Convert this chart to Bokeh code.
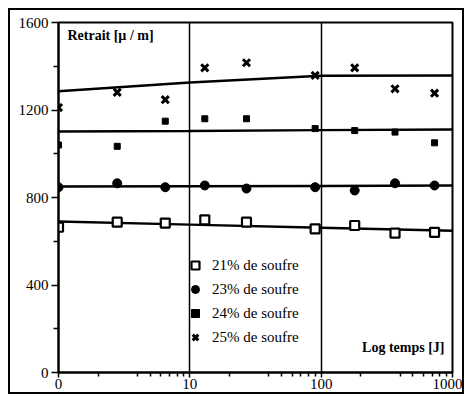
from bokeh.plotting import figure
from bokeh.models import FixedTicker, Label, Legend, LegendItem, ColumnDataSource, Range1d
from bokeh.embed import file_html
from bokeh.resources import INLINE

# Time in days (log axis; "0" is plotted at 1)
days = [1, 2.8, 6.5, 13, 27, 90, 180, 365, 730]
# Shrinkage (retrait) in micrometre per metre
s21 = [664, 687, 683, 698, 687, 657, 672, 637, 641]
s23 = [847, 865, 847, 855, 841, 847, 832, 865, 855]
s24 = [1040, 1034, 1149, 1160, 1160, 1115, 1106, 1099, 1050]
s25 = [1211, 1281, 1247, 1393, 1416, 1358, 1393, 1297, 1277]

# Trend lines
fit_days = [1, 10, 100, 1000]
fit21 = [690, 676, 662, 648]
fit23 = [850, 851, 853, 855]
fit24 = [1102, 1104, 1108, 1111]
fit25 = [1286, 1326, 1357, 1358]

labels = ["21% de soufre", "23% de soufre", "24% de soufre", "25% de soufre"]
x_ticks = [1, 10, 100, 1000]
x_tick_labels = ["0", "10", "100", "1000"]
x_minor = [2, 4, 5, 6, 7, 8, 9, 20, 40, 50, 60, 70, 80, 90, 200, 400, 500, 600, 700, 800, 900]
y_ticks = [0, 400, 800, 1200, 1600]
y_minor = [200, 600, 1000, 1400]

FONT = "Liberation Serif"

p = figure(frame_width=394, frame_height=350, x_axis_type="log",
           x_range=Range1d(1, 1000), y_range=Range1d(0, 1600),
           output_backend="svg", toolbar_location=None,
           min_border_left=48, min_border_top=12, min_border_right=10, min_border_bottom=20)
p.margin = (8, 0, 0, 8)
p.styles = {"border": "2px solid black"}
p.background_fill_color = "white"
p.border_fill_color = "white"
p.outline_line_color = "black"
p.outline_line_width = 2

# axes
p.xaxis.ticker = FixedTicker(ticks=x_ticks, minor_ticks=x_minor)
p.xaxis.major_label_overrides = {float(t): l for t, l in zip(x_ticks, x_tick_labels)}
p.yaxis.ticker = FixedTicker(ticks=y_ticks, minor_ticks=y_minor)
for ax in (p.xaxis, p.yaxis):
    ax.axis_line_color = "black"
    ax.axis_line_width = 2
    ax.major_tick_line_color = "black"
    ax.major_tick_line_width = 1.5
    ax.minor_tick_line_color = "black"
    ax.minor_tick_line_width = 1.5
    ax.major_tick_in = 0
    ax.minor_tick_in = 0
    ax.major_label_text_font = FONT
    ax.major_label_text_font_size = "15px"
    ax.major_label_text_color = "black"
p.xaxis.major_tick_out = 5
p.xaxis.minor_tick_out = 4
p.xaxis.major_label_standoff = 1
p.yaxis.major_tick_out = 7
p.yaxis.minor_tick_out = 5
p.yaxis.major_label_standoff = 3

p.xgrid.grid_line_color = "black"
p.xgrid.grid_line_width = 1.5
p.ygrid.grid_line_color = None

# trend lines
for f in (fit21, fit23, fit24, fit25):
    p.line(fit_days, f, line_color="black", line_width=2.5)

src = ColumnDataSource(dict(x=days, s21=s21, s23=s23, s24=s24, s25=s25))
r21 = p.scatter("x", "s21", source=src, marker="square", size=9,
                fill_color="white", line_color="black", line_width=2.2)
r23 = p.scatter("x", "s23", source=src, marker="circle", size=9,
                fill_color="black", line_color="black")
r24 = p.scatter("x", "s24", source=src, marker="square", size=6,
                fill_color="black", line_color="black")
r25 = p.scatter("x", "s25", source=src, marker="x", size=10,
                line_color="black", line_width=3)

legend = Legend(items=[LegendItem(label=l, renderers=[r]) for l, r in zip(labels, [r21, r23, r24, r25])],
                location=(127, 25), orientation="vertical",
                glyph_width=20, glyph_height=20, label_height=20, spacing=4,
                label_standoff=7, padding=0, margin=0,
                background_fill_alpha=0, border_line_alpha=0,
                label_text_font=FONT, label_text_font_size="15px", label_text_color="black")
p.add_layout(legend, "center")

p.add_layout(Label(x=1.17, y=1540, text="Retrait [µ / m]", text_font=FONT, text_font_size="14px",
                   text_font_style="bold", text_baseline="middle", text_align="left", text_color="black"))
p.add_layout(Label(x=869, y=114, text="Log temps [J]", text_font=FONT, text_font_size="14px",
                   text_font_style="bold", text_baseline="middle", text_align="right", text_color="black"))

open("out.html", "w").write(file_html(p, INLINE))
